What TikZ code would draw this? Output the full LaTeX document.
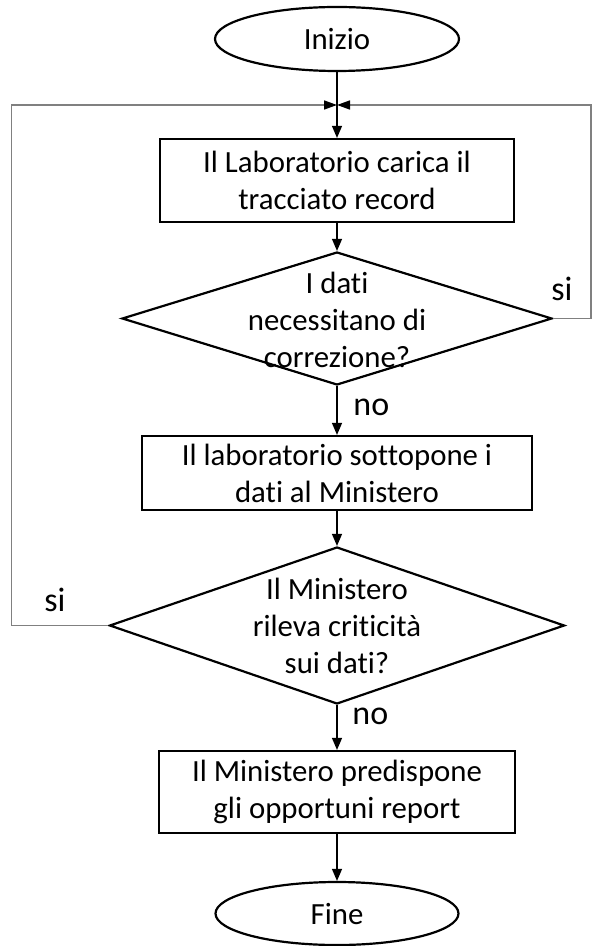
\documentclass[tikz,border=0pt]{standalone}
\usepackage{fontspec}
\setmainfont{Carlito}[Ligatures={NoCommon}]
\usetikzlibrary{shapes.geometric,arrows.meta}

\begin{document}
\begin{tikzpicture}[
  x=0.5pt,
  y=-0.5pt,
  inner sep=0pt,
  font=\fontsize{15.4}{18.5}\selectfont,
  box/.style={
    draw,
    line width=1.1pt,
    align=center,
    minimum height=41.5pt,
    minimum width=177pt
  },
  decision/.style={
    draw,
    diamond,
    line width=1.1pt
  },
  terminal/.style={
    draw,
    ellipse,
    line width=1.1pt,
    minimum width=122pt,
    minimum height=32pt
  },
  txt/.style={
    align=center
  },
  lbl/.style={
    font=\fontsize{17}{20}\selectfont
  },
  a/.style={
    -{Triangle[length=6pt,width=5pt]},
    line width=0.6pt
  },
  back/.style={
    -{Triangle[length=6.5pt,width=4.5pt,color=black]},
    draw=black!50,
    line width=0.8pt
  }
  ]
  \useasboundingbox (0,0) rectangle (591,946);

  \node (inizio) [terminal] at (337,39) {Inizio};
  \coordinate (join) at (337,105);
  \node (carica) [box] at (337,180.5) {Il Laboratorio carica il\\tracciato record};
  \node (correzione) [decision,minimum width=215pt,minimum height=66.5pt] at (337,318.5) {};
  \node (correzione-txt) [txt] at (337,319.5) {I dati\\necessitano di\\correzione?};
  \node (sottopone) [box,minimum width=195pt,minimum height=37pt] at (337,473) {Il laboratorio sottopone i\\dati al Ministero};
  \node (criticita) [decision,minimum width=227.5pt,minimum height=78.5pt] at (337,625.5) {};
  \node (criticita-txt) [txt] at (337,626) {Il Ministero\\rileva criticità\\sui dati?};
  \node (report) [box,minimum width=178pt,minimum height=41pt] at (337,792) {Il Ministero predispone\\gli opportuni report};
  \node (fine) [terminal,minimum width=121.5pt,minimum height=31.5pt] at (337,913.5) {Fine};

  \node (si-corr) [lbl,anchor=base west] at (551,300) {si};
  \node (no-corr) [lbl,anchor=base west] at (353,415) {no};
  \node (si-crit) [lbl,anchor=base west] at (44,611) {si};
  \node (no-crit) [lbl,anchor=base west] at (352,724) {no};

  \draw [a] (inizio) -- (carica);
  \draw [a] (carica) -- (correzione);
  \draw [a] (correzione) -- (sottopone);
  \draw [a] (sottopone) -- (criticita);
  \draw [a] (criticita) -- (report);
  \draw [a] (report) -- (fine);
  \draw [back] (correzione.east) -- ++(38,0) |- (join);
  \draw [back] (criticita.west) -- ++(-97,0) |- (join);
\end{tikzpicture}
\end{document}
